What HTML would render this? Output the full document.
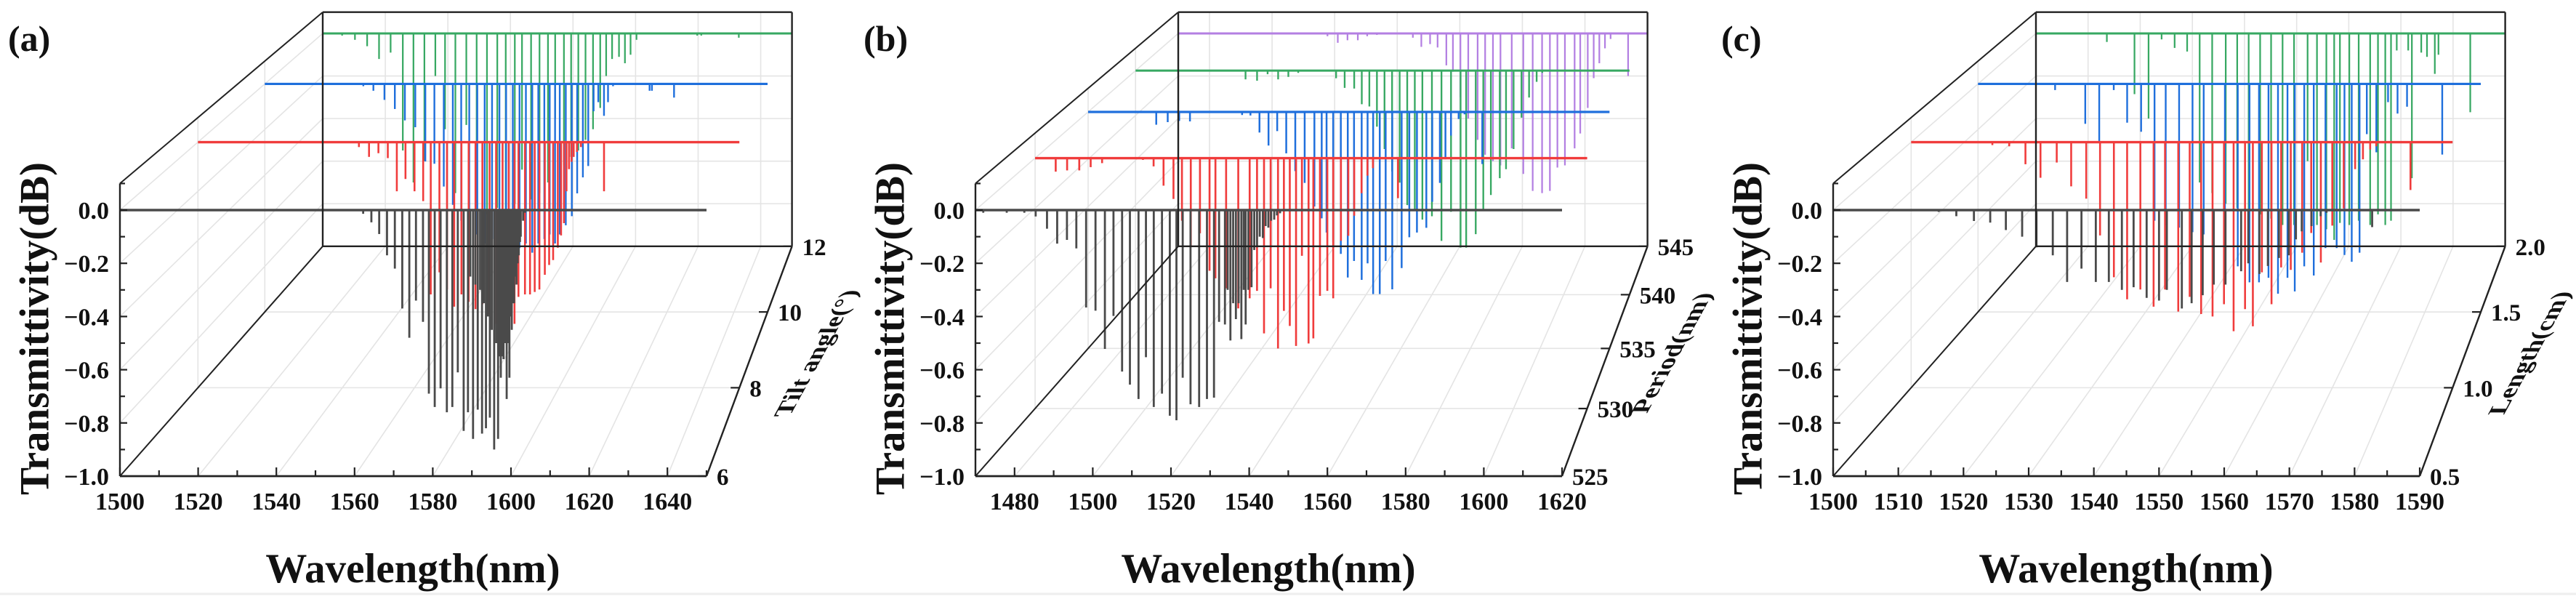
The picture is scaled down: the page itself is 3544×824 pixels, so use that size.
<!DOCTYPE html>
<html><head><meta charset="utf-8"><style>
html,body{margin:0;padding:0;background:#fff;}
svg{display:block;font-family:"Liberation Serif","Times New Roman",Times,"DejaVu Serif",serif;}
text{font-family:"Liberation Serif","Times New Roman",Times,"DejaVu Serif",serif;}
</style></head><body>
<svg id="fig" xmlns="http://www.w3.org/2000/svg" width="3544" height="824" viewBox="0 0 3544 824"></svg>
<script>
// ---------- data ----------
const aTicksX = [1500,1520,1540,1560,1580,1600,1620,1640];
const bTicksX = [1480,1500,1520,1540,1560,1580,1600,1620];
const cTicksX = [1500,1510,1520,1530,1540,1550,1560,1570,1580,1590];
const yTicks = [0,-0.2,-0.4,-0.6,-0.8,-1.0];
const yTickLabels = ["0.0","\u22120.2","\u22120.4","\u22120.6","\u22120.8","\u22121.0"];
const aDepthTicks = [6,8,10,12];
const bDepthTicks = [525,530,535,540,545];
const cDepthTicks = [0.5,1.0,1.5,2.0];
const cDepthLabels = ["0.5","1.0","1.5","2.0"];

// panel (a): tilt angle series [wavelength, dip depth]
const aBlack = [[1562.2,.014],[1564.3,.046],[1566.3,.09],[1568.3,.17],[1570.3,.22],[1572.2,.37],[1574.0,.48],[1575.7,.34],[1577.5,.42],[1579.0,.69],[1580.5,.74],[1582.0,.67],[1583.6,.76],[1585.0,.74],[1586.4,.61],[1587.9,.83],[1589.0,.76],[1589.6,.25],[1590.3,.86],[1590.9,.28],[1591.5,.75],[1592.1,.3],[1592.6,.84],[1593.1,.35],[1593.6,.82],[1594.1,.4],[1594.6,.78],[1595.1,.45],[1595.7,.90],[1596.2,.5],[1596.7,.86],[1597.0,.55],[1597.4,.63],[1597.8,.55],[1598.1,.56],[1598.5,.5],[1598.9,.71],[1599.2,.5],[1599.6,.63],[1599.9,.4],[1600.2,.45],[1600.5,.35],[1600.8,.35],[1601.1,.25],[1601.4,.28],[1601.7,.2],[1602.0,.17],[1602.3,.12],[1602.5,.10],[1603.1,.04],[1603.6,.01]];
const aRed = [[1544.6,.02],[1547.4,.06],[1550.0,.045],[1552.6,.065],[1555.1,.20],[1557.5,.15],[1560.0,.20],[1562.4,.24],[1564.5,.62],[1566.9,.53],[1569.0,.6],[1571.0,.67],[1573.0,.62],[1575.0,.65],[1576.9,.68],[1578.8,.66],[1580.8,.7],[1582.6,.74],[1584.4,.72],[1586.1,.7],[1587.7,.74],[1588.8,.63],[1590.6,.62],[1592.0,.62],[1593.3,.61],[1594.6,.60],[1596.1,.54],[1597.3,.50],[1598.4,.48],[1599.7,.43],[1600.6,.38],[1601.4,.33],[1602.1,.2],[1602.8,.11],[1603.5,.08],[1604.1,.06],[1605.0,.04],[1606.1,.02],[1612.5,.20]];
const aBlue = [[1529.4,.01],[1532.4,.03],[1535.7,.07],[1538.8,.11],[1541.8,.16],[1544.9,.19],[1547.9,.34],[1550.6,.35],[1553.4,.45],[1556.1,.53],[1558.6,.6],[1561.0,.62],[1563.4,.66],[1565.6,.7],[1567.8,.68],[1570.0,.72],[1572.0,.7],[1574.0,.75],[1576.0,.72],[1577.9,.7],[1579.8,.74],[1581.6,.7],[1583.4,.68],[1585.0,.66],[1586.6,.7],[1588.0,.66],[1589.8,.62],[1591.6,.58],[1593.2,.48],[1594.9,.41],[1596.5,.36],[1598.1,.12],[1599.5,.08],[1601.2,.14],[1602.4,.08],[1603.9,.01],[1614.8,.03],[1615.5,.03],[1622.1,.06]];
const aGreen = [[1506.2,.01],[1510.3,.03],[1514.2,.06],[1518.0,.12],[1521.7,.09],[1525.6,.55],[1529.0,.7],[1532.5,.6],[1536.0,.2],[1539.1,.45],[1542.4,.75],[1545.9,.43],[1549.2,.8],[1552.5,.85],[1555.8,.82],[1558.5,.85],[1561.4,.8],[1563.7,.64],[1566.6,.78],[1569.3,.75],[1572.0,.7],[1574.3,.40],[1577.1,.62],[1579.4,.58],[1581.7,.55],[1584.0,.5],[1586.4,.45],[1588.7,.35],[1590.6,.2],[1592.5,.12],[1594.7,.11],[1596.6,.14],[1598.4,.10],[1600.3,.03],[1619.7,.01],[1621.0,.01],[1633.0,.02]];

// panel (b): period series
const bBlack = [[1472.0,.01],[1478.0,.01],[1482.5,.01],[1485.4,.024],[1488.3,.07],[1490.9,.126],[1493.4,.112],[1495.8,.144],[1498.3,.366],[1500.7,.378],[1503.1,.522],[1505.3,.398],[1507.5,.607],[1509.5,.656],[1511.7,.71],[1513.6,.553],[1515.6,.74],[1517.7,.69],[1519.7,.773],[1521.4,.79],[1523.0,.63],[1525.0,.73],[1527.2,.74],[1529.2,.71],[1531.0,.705],[1532.3,.42],[1533.8,.43],[1534.5,.3],[1535.2,.49],[1535.9,.35],[1536.6,.41],[1537.3,.35],[1538.0,.485],[1538.6,.3],[1539.1,.43],[1539.8,.3],[1540.6,.29],[1541.3,.15],[1542.0,.14],[1542.7,.1],[1543.5,.105],[1544.2,.06],[1544.9,.066],[1545.6,.04],[1546.4,.036],[1547.1,.02],[1547.9,.012]];
const bRed = [[1475.6,.054],[1478.7,.049],[1482.0,.049],[1485.1,.036],[1488.2,.02],[1499.3,.007],[1502.2,.033],[1504.9,.11],[1507.6,.163],[1509.9,.25],[1512.3,.35],[1514.8,.3],[1517.4,.45],[1519.0,.48],[1521.9,.52],[1525.2,.6],[1528.3,.56],[1530.3,.53],[1532.2,.7],[1534.0,.52],[1536.0,.76],[1537.6,.61],[1539.2,.67],[1540.9,.75],[1542.5,.39],[1544.3,.74],[1545.6,.72],[1547.4,.55],[1549.4,.53],[1551.0,.56],[1553.1,.33],[1555.1,.31],[1556.7,.23],[1558.7,.14],[1560.3,.07],[1561.8,.04],[1568.6,.16]];
const bBlue = [[1489.6,.054],[1492.9,.043],[1496.2,.038],[1499.3,.04],[1514.3,.013],[1516.7,.015],[1519.3,.087],[1521.9,.142],[1524.4,.081],[1527.0,.175],[1529.6,.25],[1532.3,.3],[1535.1,.4],[1537.2,.45],[1538.6,.51],[1540.5,.55],[1542.7,.60],[1544.7,.70],[1546.5,.63],[1548.7,.71],[1550.4,.64],[1552.0,.77],[1553.9,.77],[1555.6,.63],[1557.5,.75],[1560.2,.66],[1562.4,.53],[1564.6,.51],[1567.3,.49],[1569.0,.38],[1571.2,.30],[1572.8,.20],[1574.4,.10],[1576.6,.03],[1578.3,.01],[1583.4,.22]];
const bGreen = [[1503.4,.039],[1506.9,.045],[1510.1,.016],[1513.3,.039],[1516.4,.028],[1519.4,.01],[1530.9,.034],[1533.5,.077],[1536.4,.08],[1538.7,.15],[1541.0,.16],[1543.3,.25],[1545.6,.35],[1547.9,.45],[1550.2,.5],[1552.5,.6],[1554.8,.62],[1557.1,.665],[1560.0,.65],[1562.9,.76],[1565.8,.63],[1568.7,.79],[1570.4,.79],[1573.3,.73],[1575.6,.62],[1577.9,.555],[1580.6,.48],[1582.5,.44],[1584.8,.35],[1587.2,.21],[1589.5,.12],[1591.8,.05],[1593.5,.01]];
const bPurple = [[1517.7,.013],[1521.0,.044],[1524.1,.032],[1527.4,.032],[1530.4,.013],[1533.5,.007],[1545.0,.02],[1547.7,.063],[1550.5,.05],[1552.9,.066],[1555.7,.15],[1557.8,.18],[1560.2,.3],[1562.7,.4],[1565.7,.5],[1568.1,.57],[1570.6,.6],[1573.0,.62],[1576.6,.54],[1580.3,.66],[1583.3,.74],[1586.3,.75],[1588.8,.74],[1591.2,.63],[1593.6,.62],[1596.7,.54],[1598.5,.47],[1600.9,.35],[1602.8,.21],[1604.6,.14],[1606.4,.07],[1608.2,.026],[1613.8,.2]];

// panel (c): length series
const cBlack = [[1516.2,.007],[1518.9,.023],[1521.6,.041],[1524.1,.047],[1526.5,.075],[1529.0,.10],[1531.2,.14],[1533.7,.17],[1535.9,.27],[1538.1,.22],[1540.3,.27],[1542.3,.27],[1544.3,.30],[1546.1,.29],[1548.1,.33],[1550.0,.34],[1551.2,.30],[1553.5,.37],[1555.0,.35],[1556.7,.32],[1558.4,.28],[1560.2,.28],[1562.6,.23],[1563.7,.20],[1565.4,.24],[1566.7,.21],[1568.4,.18],[1569.9,.17],[1571.0,.11],[1571.9,.08],[1573.4,.06],[1574.8,.023],[1575.7,.01],[1582.7,.064]];
const cRed = [[1513.5,.012],[1516.3,.017],[1519.0,.09],[1521.5,.145],[1524.2,.083],[1526.6,.18],[1529.1,.23],[1531.4,.38],[1533.7,.55],[1535.9,.64],[1538.1,.6],[1540.3,.67],[1542.2,.6],[1544.4,.69],[1546.3,.63],[1548.2,.70],[1550.1,.71],[1552.0,.66],[1553.6,.77],[1555.5,.68],[1556.8,.75],[1558.3,.53],[1559.9,.66],[1561.5,.51],[1563.1,.52],[1565.0,.45],[1566.5,.37],[1568.1,.49],[1570.0,.34],[1571.9,.27],[1573.8,.11],[1575.1,.07],[1576.3,.03],[1577.3,.017],[1583.0,.195]];
const cBlue = [[1513.8,.027],[1516.5,.005],[1519.2,.175],[1521.7,.255],[1524.3,.027],[1526.7,.17],[1529.2,.21],[1531.6,.6],[1533.6,.62],[1536.0,.63],[1538.4,.65],[1540.4,.66],[1544.2,.88],[1546.5,.8],[1548.6,.87],[1550.3,.87],[1552.0,.85],[1553.7,.92],[1555.4,.85],[1556.7,.91],[1558.4,.8],[1560.1,.84],[1562.2,.72],[1564.2,.72],[1565.6,.75],[1566.9,.78],[1568.3,.74],[1569.6,.22],[1571.3,.3],[1573.4,.08],[1575.1,.13],[1576.8,.10],[1583.1,.31]];
const cGreen = [[1513.6,.04],[1518.9,.285],[1521.6,.40],[1524.1,.028],[1526.6,.068],[1529.0,.085],[1531.4,.7],[1533.8,.75],[1536.4,.8],[1538.6,.82],[1540.8,.85],[1543.0,.85],[1545.1,.87],[1547.3,.9],[1549.5,.9],[1552.1,.6],[1553.9,.9],[1555.7,.92],[1557.2,.97],[1558.3,.89],[1560.1,.9],[1561.9,.88],[1564.1,.9],[1565.6,.85],[1567.0,.9],[1568.1,.88],[1569.2,.08],[1571.4,.08],[1572.1,.68],[1573.9,.09],[1575.0,.11],[1576.5,.19],[1577.2,.10],[1583.3,.37]];

// ---------- geometry ----------
const SVGNS = "http://www.w3.org/2000/svg";
const FONT = "'Liberation Serif','Times New Roman',Times,'DejaVu Serif',serif";
const svg = document.getElementById('fig');
const VY = -926, Y0 = 289, YS = 366, FW = 807;
function mk(tag, attrs, parent){
  const e = document.createElementNS(SVGNS, tag);
  for (const k in attrs) e.setAttribute(k, attrs[k]);
  if (tag === 'text') { e.setAttribute('font-family', FONT); e.style.fontFamily = FONT; }
  (parent||svg).appendChild(e);
  return e;
}
function makePanel(cfg){
  const P = cfg;
  P.Vx = P.L + 1395;
  const g = mk('g', {});
  
  
  function pr(wl, val, t){
    const s = 1/(1+0.25*t);
    const fx = P.L + (wl - P.xmin)/(P.xmax - P.xmin)*FW;
    const fy = Y0 - val*YS;
    return [P.Vx + s*(fx - P.Vx), VY + s*(fy - VY), s];
  }
  function ln(p, q, stroke, w, parent){
    return mk('line', {x1:p[0].toFixed(2), y1:p[1].toFixed(2), x2:q[0].toFixed(2), y2:q[1].toFixed(2), stroke:stroke, 'stroke-width':w}, parent||g);
  }
  const tOf = v => (v - P.dmin)/(P.dmax - P.dmin);
  const grid = mk('g', {}, g);
  
  
  const GC = '#e4e4e4';
  P.ticks.forEach(w => {
    ln(pr(w,-1,0), pr(w,-1,1), GC, 1.6, grid);
    ln(pr(w,-1,1), pr(w,0.1,1), GC, 1.6, grid);
  });
  yTicks.forEach(v => {
    ln(pr(P.xmin,v,1), pr(P.xmax,v,1), GC, 1.6, grid);
    ln(pr(P.xmin,v,0), pr(P.xmin,v,1), GC, 1.6, grid);
  });
  P.dticks.forEach(d => {
    const t = tOf(d);
    ln(pr(P.xmin,-1,t), pr(P.xmax,-1,t), GC, 1.6, grid);
    ln(pr(P.xmin,-1,t), pr(P.xmin,0.1,t), GC, 1.6, grid);
  });
  for (let i = P.series.length - 1; i >= 0; i--){
    const S = P.series[i];
    const t = tOf(S.depth);
    const sg = mk('g', {}, g);
    
    
    const base = ln(pr(P.xmin,0,t), pr(P.xmax,0,t), S.color, (3.6/(1+0.25*t)).toFixed(2), sg);
    
    
    S.data.forEach(pt => {
      const a = pr(pt[0], 0, t), b = pr(pt[0], -pt[1], t);
      const st = ln(a, b, S.color, (2.8*a[2]).toFixed(2), sg);
      
      
    });
  }
  const fr = mk('g', {}, g);
  
  
  const FC = '#222', FWD = 2.4;
  ln(pr(P.xmin,-1,0), pr(P.xmax,-1,0), FC, 2.8, fr);
  ln(pr(P.xmin,-1,0), pr(P.xmin,0.1,0), FC, 2.4, fr);
  ln(pr(P.xmin,-1,1), pr(P.xmax,-1,1), FC, FWD, fr);
  ln(pr(P.xmin,0.1,1), pr(P.xmax,0.1,1), FC, FWD, fr);
  ln(pr(P.xmin,-1,1), pr(P.xmin,0.1,1), FC, FWD, fr);
  ln(pr(P.xmax,-1,1), pr(P.xmax,0.1,1), FC, FWD, fr);
  ln(pr(P.xmin,-1,0), pr(P.xmin,-1,1), FC, 2, fr);
  ln(pr(P.xmin,0.1,0), pr(P.xmin,0.1,1), FC, 2, fr);
  ln(pr(P.xmax,-1,0), pr(P.xmax,-1,1), FC, 2.4, fr);
  const xt = mk('g', {}, g);
  
  
  for (let w = P.xmin; w <= P.xmax + 1e-6; w += P.minor){
    const p = pr(w,-1,0);
    const major = P.ticks.some(v => Math.abs(v - w) < 1e-6);
    ln([p[0],p[1]], [p[0], p[1] - (major?12:8)], FC, 2.2, xt);
  }
  P.ticks.forEach(w => {
    const p = pr(w,-1,0);
    const tx = mk('text', {x:p[0].toFixed(1), y:701, 'text-anchor':'middle', 'font-size':34, 'font-weight':'bold', fill:'#111'}, xt);
    
    
    tx.textContent = String(w);
  });
  const yt = mk('g', {}, g);
  
  
  for (let k = 0; k <= 11; k++){
    const v = 0.1 - k*0.1;
    const p = pr(P.xmin, v, 0);
    ln([p[0],p[1]], [p[0] + (k%2===1?10:7), p[1]], FC, 2.2, yt);
  }
  yTicks.forEach((v, i) => {
    const p = pr(P.xmin, v, 0);
    const tx = mk('text', {x:(P.L-15).toFixed(1), y:(p[1]+12).toFixed(1), 'text-anchor':'end', 'font-size':34, 'font-weight':'bold', fill:'#111'}, yt);
    
    
    tx.textContent = yTickLabels[i];
  });
  const dt = mk('g', {}, g);
  
  
  P.dticks.forEach((d, i) => {
    const p = pr(P.xmax, -1, tOf(d));
    ln([p[0]-12,p[1]], [p[0],p[1]], FC, 2.2, dt);
    const tx = mk('text', {x:(p[0]+14).toFixed(1), y:(p[1]+12).toFixed(1), 'font-size':33, 'font-weight':'bold', fill:'#111'}, dt);
    
    
    tx.textContent = P.dlabels[i];
  });
  const yl = mk('text', {x:0, y:0, transform:'translate(' + (P.L-117) + ',452) rotate(-90)', 'text-anchor':'middle', 'dominant-baseline':'central', 'font-size':57, 'font-weight':'bold', fill:'#111'}, g);
  
  
  yl.textContent = 'Transmittivity(dB)';
  const xl = mk('text', {x:(P.L+403), y:801, 'text-anchor':'middle', 'font-size':57, 'font-weight':'bold', fill:'#111'}, g);
  
  
  xl.textContent = 'Wavelength(nm)';
  const dl = mk('text', {x:0, y:0, transform:'translate(' + (P.L+958) + ',486) rotate(-90) skewY(28.7)', 'text-anchor':'middle', 'dominant-baseline':'central', 'font-size':34, 'font-weight':'bold', fill:'#111'}, g);
  
  
  dl.textContent = P.dtitle;
  const pl = mk('text', {x:(P.L-154), y:70, 'font-size':50, 'font-weight':'bold', fill:'#111'}, g);
  
  
  pl.textContent = '(' + P.id + ')';
}
const COL = {black:'#4a4a4a', red:'#f03c3c', blue:'#1f6fdc', green:'#37a862', purple:'#b37fe2'};
makePanel({id:'a', L:165, xmin:1500, xmax:1650, minor:10, ticks:aTicksX, dmin:6, dmax:12, dticks:aDepthTicks, dlabels:aDepthTicks.map(String), dtitle:'Tilt angle(\u00b0)',
  series:[{name:'tilt-6',depth:6,color:COL.black,data:aBlack},{name:'tilt-8',depth:8,color:COL.red,data:aRed},{name:'tilt-10',depth:10,color:COL.blue,data:aBlue},{name:'tilt-12',depth:12,color:COL.green,data:aGreen}]});
makePanel({id:'b', L:1342, xmin:1470, xmax:1620, minor:10, ticks:bTicksX, dmin:525, dmax:545, dticks:bDepthTicks, dlabels:bDepthTicks.map(String), dtitle:'Period(nm)',
  series:[{name:'period-525',depth:525,color:COL.black,data:bBlack},{name:'period-530',depth:530,color:COL.red,data:bRed},{name:'period-535',depth:535,color:COL.blue,data:bBlue},{name:'period-540',depth:540,color:COL.green,data:bGreen},{name:'period-545',depth:545,color:COL.purple,data:bPurple}]});
makePanel({id:'c', L:2522, xmin:1500, xmax:1590, minor:5, ticks:cTicksX, dmin:0.5, dmax:2.0, dticks:cDepthTicks, dlabels:cDepthLabels, dtitle:'Length(cm)',
  series:[{name:'length-0.5',depth:0.5,color:COL.black,data:cBlack},{name:'length-1.0',depth:1.0,color:COL.red,data:cRed},{name:'length-1.5',depth:1.5,color:COL.blue,data:cBlue},{name:'length-2.0',depth:2.0,color:COL.green,data:cGreen}]});
const bl = mk('line', {x1:0, y1:817, x2:3544, y2:817, stroke:'#eeeeee', 'stroke-width':3});


</script>
</body></html>
